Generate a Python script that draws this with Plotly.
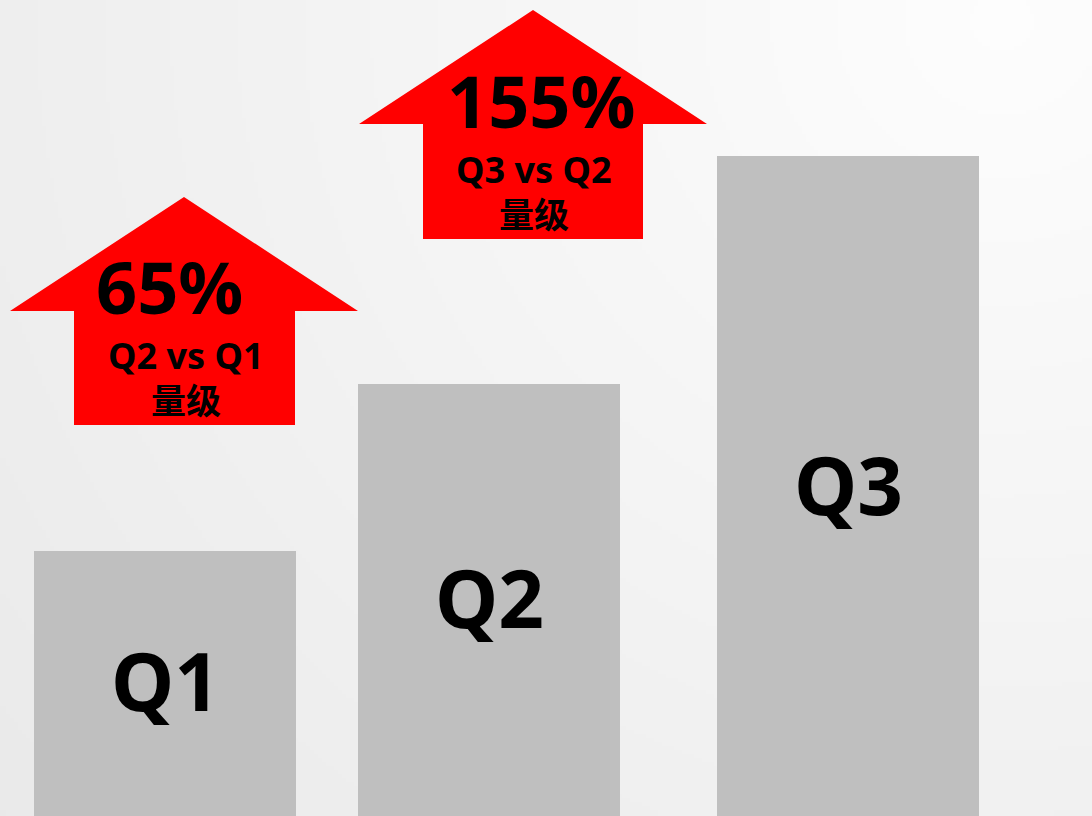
import base64
import struct
import zlib

import numpy as np
import plotly.graph_objects as go

# ---------------- data ----------------
categories = ["Q1", "Q2", "Q3"]
bar_values = [265, 432, 660]          # bar heights
bar_centers = [165, 489, 848]         # horizontal placement of the bars
growth_labels = ["65%", "155%"]
growth_captions = ["Q2 vs Q1", "Q3 vs Q2"]
growth_unit = ["量级", "量级"]

# ---------------- layout helpers ----------------
W, H = 1092, 816
BAR_WIDTH = 262
BAR_COLOR = "#bfbfbf"
ARROW_COLOR = "#ff0000"
FONT = "Noto Sans, Noto Sans CJK SC, sans-serif"
label_y = [137, 220, 333]              # label centre (from bottom) of each bar label

# arrow geometry (px from top)
arrows = [
    (184, 197, 10, 358, 311, 74, 295, 425),
    (533, 10, 359, 707, 124, 423, 643, 239),
]
arrow_text_y = [(286, 355, 400), (100, 169, 214)]
arrow_text_x = [(169, 185, 186), (541, 533, 534)]


def png_data_uri(w, h):
    ys, xs = np.mgrid[0:h, 0:w]
    px = xs * (W / w)
    py = ys * (H / h)
    d = np.sqrt((px - 1000.0) ** 2 + ((py - 20.0) * 1.05) ** 2)
    v = np.clip(253.5 - 0.0150 * d, 228, 255).astype(np.uint8)
    rgb = np.stack([v, v, v], axis=-1)
    raw = b"".join(b"\x00" + rgb[r].tobytes() for r in range(h))

    def chunk(tag, data):
        c = struct.pack(">I", len(data)) + tag + data
        return c + struct.pack(">I", zlib.crc32(tag + data) & 0xFFFFFFFF)

    png = b"\x89PNG\r\n\x1a\n"
    png += chunk(b"IHDR", struct.pack(">IIBBBBB", w, h, 8, 2, 0, 0, 0))
    png += chunk(b"IDAT", zlib.compress(raw, 9))
    png += chunk(b"IEND", b"")
    return "data:image/png;base64," + base64.b64encode(png).decode()


fig = go.Figure()
fig.add_trace(go.Bar(
    x=bar_centers, y=bar_values, width=BAR_WIDTH,
    marker=dict(color=BAR_COLOR, line=dict(width=0)),
    hoverinfo="skip", showlegend=False,
))

shapes = []
annotations = []
for (tx, ty, wl, wr, wy, sl, sr, by) in arrows:
    pts = [(tx, ty), (wr, wy), (sr, wy), (sr, by), (sl, by), (sl, wy), (wl, wy)]
    path = "M " + " L ".join(f"{x},{H - y}" for x, y in pts) + " Z"
    shapes.append(dict(type="path", path=path, xref="x", yref="y",
                       fillcolor=ARROW_COLOR, line=dict(width=0), layer="above"))

for i in range(len(growth_labels)):
    ys = arrow_text_y[i]
    xs = arrow_text_x[i]
    for txt, x, y, size in [(growth_labels[i], xs[0], ys[0], 72),
                            (growth_captions[i], xs[1], ys[1], 36),
                            (growth_unit[i], xs[2], ys[2], 35)]:
        annotations.append(dict(x=x, y=H - y, xref="x", yref="y", text=txt,
                                showarrow=False, xanchor="center", yanchor="middle",
                                font=dict(family=FONT, size=size, color="#000000", weight="bold")))

for cat, xc, ly in zip(categories, bar_centers, label_y):
    annotations.append(dict(x=xc, y=ly, xref="x", yref="y", text=cat,
                            showarrow=False, xanchor="center", yanchor="middle",
                            font=dict(family=FONT, size=80, color="#000000", weight="bold")))

fig.update_layout(
    width=W, height=H, autosize=False,
    margin=dict(l=0, r=0, t=0, b=0, pad=0),
    paper_bgcolor="#f2f2f2", plot_bgcolor="rgba(0,0,0,0)",
    xaxis=dict(range=[0, W], visible=False, fixedrange=True),
    yaxis=dict(range=[0, H], visible=False, fixedrange=True),
    shapes=shapes, annotations=annotations,
    images=[dict(source=png_data_uri(273, 204), xref="paper", yref="paper",
                 x=0, y=1, sizex=1, sizey=1, sizing="stretch",
                 xanchor="left", yanchor="top", layer="below")],
    bargap=0, showlegend=False,
)

fig.write_html("out.html", config={"displayModeBar": False},
               post_script="document.body.style.margin='0';document.body.style.padding='0';"
                           "document.documentElement.style.overflow='hidden';")
